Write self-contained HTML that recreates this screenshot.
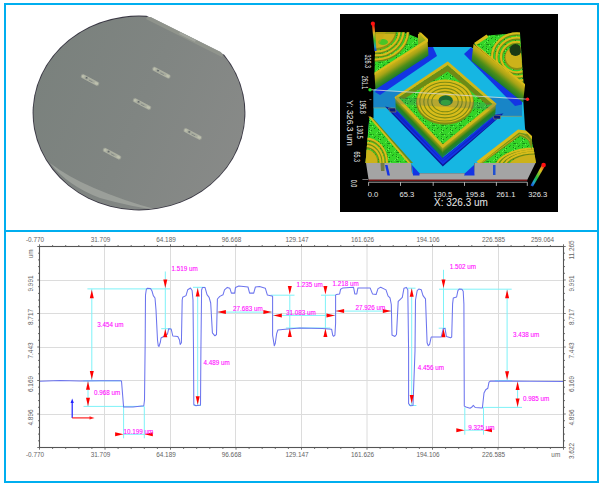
<!DOCTYPE html><html><head><meta charset="utf-8"><style>html,body{margin:0;padding:0;background:#fff;width:605px;height:490px;overflow:hidden}svg{display:block}text{font-family:"Liberation Sans",sans-serif}.m{font-size:6.3px;fill:#ff00ff;stroke:#ff40ff;stroke-width:0.12px}.t{font-size:6.4px;fill:#646464}.w{font-family:"Liberation Sans",sans-serif;fill:#e8e8e8}</style></head><body>
<svg width="605" height="490" viewBox="0 0 605 490">
<defs>
<clipPath id="wclip"><polygon points="-10,-64 320,101 320,300 -10,300"/></clipPath>
<radialGradient id="wg" cx="0.5" cy="0.45" r="0.6"><stop offset="0" stop-color="#7f817e"/><stop offset="0.8" stop-color="#7b7d7a"/><stop offset="1" stop-color="#777976"/></radialGradient>
</defs>
<rect x="5" y="4" width="593" height="478" fill="none" stroke="#00aeef" stroke-width="2"/>
<line x1="5" y1="231" x2="598" y2="231" stroke="#00aeef" stroke-width="2"/>
<defs><linearGradient id="wg2" x1="0" y1="0.3" x2="1" y2="0.7"><stop offset="0" stop-color="#7a817d"/><stop offset="0.5" stop-color="#808582"/><stop offset="1" stop-color="#888a88"/></linearGradient><filter id="bl" x="-20%" y="-50%" width="140%" height="200%"><feGaussianBlur stdDeviation="0.45"/></filter><filter id="bl2" x="-30%" y="-100%" width="160%" height="300%"><feGaussianBlur stdDeviation="0.6"/></filter></defs>
<path d="M146.48,15.84 L224.26,54.73 A106.4 97.4 0 1 1 146.48,15.84 Z" fill="#3a3844"/>
<path d="M151.07,17.13 L220.71,51.95 A105.5 96.5 0 1 1 151.07,17.13 Z" fill="url(#wg2)"/>
<defs><clipPath id="wclip2"><path d="M151.07,17.13 L220.71,51.95 A105.5 96.5 0 1 1 151.07,17.13 Z"/></clipPath></defs>
<g clip-path="url(#wclip2)">
<path d="M50,163 Q68,186 100,198 Q132,207 158,210 Q124,201 94,188 Q68,177 50,163 Z" fill="#a4a8a2" opacity="0.75" filter="url(#bl)"/>
<polygon points="148,15.5 224,53.5 222,57 146,19" fill="#94988f" opacity="0.8" filter="url(#bl)"/>
<polygon points="180,32 196,40 195,42 179,34" fill="#a8aca4" opacity="0.7" filter="url(#bl)"/>
</g>
<g transform="translate(90.0 80.0) rotate(28)" filter="url(#bl2)"><rect x="-9.5" y="-1.8" width="19" height="3.6" rx="1.2" fill="#bec1ae"/><rect x="-6.5" y="-0.9" width="12" height="1.8" fill="#a4a89c"/><circle cx="-4" cy="-0.3" r="0.9" fill="#4a5058"/><rect x="-1" y="0" width="4" height="0.8" fill="#7a8080"/></g>
<g transform="translate(161.4 72.7) rotate(28)" filter="url(#bl2)"><rect x="-9.5" y="-1.8" width="19" height="3.6" rx="1.2" fill="#bec1ae"/><rect x="-6.5" y="-0.9" width="12" height="1.8" fill="#a4a89c"/><circle cx="-4" cy="-0.3" r="0.9" fill="#4a5058"/><rect x="-1" y="0" width="4" height="0.8" fill="#7a8080"/></g>
<g transform="translate(142.0 104.0) rotate(28)" filter="url(#bl2)"><rect x="-9.5" y="-1.8" width="19" height="3.6" rx="1.2" fill="#bec1ae"/><rect x="-6.5" y="-0.9" width="12" height="1.8" fill="#a4a89c"/><circle cx="-4" cy="-0.3" r="0.9" fill="#4a5058"/><rect x="-1" y="0" width="4" height="0.8" fill="#7a8080"/></g>
<g transform="translate(192.7 134.0) rotate(28)" filter="url(#bl2)"><rect x="-9.5" y="-1.8" width="19" height="3.6" rx="1.2" fill="#bec1ae"/><rect x="-6.5" y="-0.9" width="12" height="1.8" fill="#a4a89c"/><circle cx="-4" cy="-0.3" r="0.9" fill="#4a5058"/><rect x="-1" y="0" width="4" height="0.8" fill="#7a8080"/></g>
<g transform="translate(112.0 153.7) rotate(28)" filter="url(#bl2)"><rect x="-9.5" y="-1.8" width="19" height="3.6" rx="1.2" fill="#bec1ae"/><rect x="-6.5" y="-0.9" width="12" height="1.8" fill="#a4a89c"/><circle cx="-4" cy="-0.3" r="0.9" fill="#4a5058"/><rect x="-1" y="0" width="4" height="0.8" fill="#7a8080"/></g>
<rect x="340" y="14" width="218" height="198" fill="#000"/>
<defs>
<linearGradient id="wallL" x1="0" y1="0" x2="0" y2="1"><stop offset="0" stop-color="#c6ae16"/><stop offset="0.5" stop-color="#9aa414"/><stop offset="1" stop-color="#50a020"/></linearGradient>
<linearGradient id="wallR" x1="0" y1="0" x2="0" y2="1"><stop offset="0" stop-color="#c2aa16"/><stop offset="0.55" stop-color="#92a018"/><stop offset="1" stop-color="#3c9a26"/></linearGradient>
<linearGradient id="cbar1" x1="0" y1="0" x2="0" y2="1"><stop offset="0" stop-color="#ff1010"/><stop offset="0.3" stop-color="#d8b020"/><stop offset="0.6" stop-color="#30c030"/><stop offset="0.85" stop-color="#20a0c0"/><stop offset="1" stop-color="#1030e0"/></linearGradient>
<linearGradient id="cbar2" x1="1" y1="0" x2="0" y2="1"><stop offset="0" stop-color="#ff1010"/><stop offset="0.3" stop-color="#d8c020"/><stop offset="0.6" stop-color="#20c040"/><stop offset="0.8" stop-color="#20a0d0"/><stop offset="1" stop-color="#1030e0"/></linearGradient>
<pattern id="speck" width="9" height="9" patternUnits="userSpaceOnUse"><rect width="9" height="9" fill="#34d428"/><rect x="5" y="2" width="1" height="1" fill="#168016"/><rect x="0" y="1" width="1" height="1" fill="#60f050"/><rect x="1" y="5" width="1" height="1" fill="#60f050"/><rect x="0" y="8" width="1" height="1" fill="#20a01c"/><rect x="0" y="1" width="1" height="1" fill="#168016"/><rect x="6" y="1" width="1" height="1" fill="#20a01c"/><rect x="1" y="8" width="1" height="1" fill="#168016"/><rect x="0" y="1" width="1" height="1" fill="#20a01c"/><rect x="0" y="6" width="1" height="1" fill="#1a8a18"/><rect x="3" y="0" width="1" height="1" fill="#60f050"/><rect x="2" y="4" width="1" height="1" fill="#168016"/><rect x="2" y="8" width="1" height="1" fill="#1a8a18"/><rect x="4" y="8" width="1" height="1" fill="#20a01c"/><rect x="1" y="3" width="1" height="1" fill="#5ae848"/><rect x="1" y="8" width="1" height="1" fill="#1a8a18"/><rect x="0" y="3" width="1" height="1" fill="#168016"/><rect x="8" y="6" width="1" height="1" fill="#5ae848"/><rect x="7" y="7" width="1" height="1" fill="#5ae848"/></pattern>
<clipPath id="c3d"><rect x="340" y="14" width="218" height="198"/></clipPath>
<clipPath id="cTL"><polygon points="375.5,32.3 419,32.3 428,40.5 374.5,74"/></clipPath>
<clipPath id="cTR"><polygon points="487,33 520,31 520,40 523.5,84.5 474,44"/></clipPath>
<clipPath id="cD"><polygon points="447.7,65.2 492.3,104 442.8,144.2 398.6,97.6"/></clipPath>
<clipPath id="cBL"><polygon points="369.3,117 370,117 411,163 365.5,163"/></clipPath>
<clipPath id="cBR"><polygon points="478,163 519,131 532,139 536,163"/></clipPath>
</defs>
<g clip-path="url(#c3d)">
<polygon points="428.0,47.0 471.0,47.0 522.0,84.0 523.5,104.0 525.0,128.0 532.0,163.0 474.5,163.0 474.0,173.5 412.0,173.5 411.0,163.0 366.0,163.0 369.3,118.0 373.5,118.0 373.5,90.0 377.0,88.0" fill="#16b6e2" />
<polygon points="373.5,90.0 522.0,99.5 522.0,116.5 501.0,116.0 493.0,112.0 388.0,107.7 373.5,107.7" fill="#1a70bc" opacity="0.7"/>
<path d="M373.5,107.9H388M501,116.3H522" stroke="#a8a050" stroke-width="0.6"/>
<polygon points="428.0,47.0 433.0,47.0 437.0,56.0 380.0,95.0 375.0,92.0 377.0,88.5" fill="#1434e4" />
<polygon points="464.0,54.0 471.0,47.5 522.0,92.0 522.0,104.5 515.0,106.0" fill="#1434e4" />
<polygon points="389.5,107.7 396.2,111.1 443.3,157.1 494.9,116.7 499.4,115.6 442.2,161.0" fill="#1434e4" />
<polygon points="390.0,109.0 396.0,109.0 397.0,112.0 392.0,112.0" fill="#0a1a80" />
<defs><linearGradient id="wallL2" x1="0" y1="0" x2="0" y2="1"><stop offset="0" stop-color="#c8b418"/><stop offset="0.45" stop-color="#98a616"/><stop offset="1" stop-color="#3aa02a"/></linearGradient><linearGradient id="endw" x1="0" y1="0" x2="0" y2="1"><stop offset="0" stop-color="#c8b418"/><stop offset="1" stop-color="#58a822"/></linearGradient></defs>
<polygon points="375.5,32.3 404.0,32.3 418.0,38.0 418.0,47.0 374.5,74.0" fill="url(#speck)" />
<g clip-path="url(#cTL)">
<ellipse cx="376.0" cy="30.9" rx="32.0" ry="29.4" fill="none" stroke="#6e8a14" stroke-width="3.0"/>
<ellipse cx="376.0" cy="30.0" rx="32.0" ry="29.4" fill="none" stroke="#d8bc1a" stroke-width="2.0"/>
<ellipse cx="376.0" cy="30.9" rx="27.5" ry="25.3" fill="none" stroke="#6e8a14" stroke-width="3.0"/>
<ellipse cx="376.0" cy="30.0" rx="27.5" ry="25.3" fill="none" stroke="#d8bc1a" stroke-width="2.0"/>
<ellipse cx="376.0" cy="30.9" rx="23.5" ry="21.6" fill="none" stroke="#6e8a14" stroke-width="3.0"/>
<ellipse cx="376.0" cy="30.0" rx="23.5" ry="21.6" fill="none" stroke="#d8bc1a" stroke-width="2.0"/>
<ellipse cx="376.0" cy="31.0" rx="20.5" ry="18.9" fill="#8a9014" />
<ellipse cx="376.0" cy="30.0" rx="19.5" ry="17.9" fill="#ccb21a" />
</g>
<g clip-path="url(#cTL)"><ellipse cx="383" cy="42" rx="5" ry="3" fill="#30c828" opacity="0.85"/><path d="M376,33H396" stroke="#6e8a14" stroke-width="1.2"/></g>
<polygon points="374.5,52.0 386.0,32.0 376.0,32.0" fill="#c8a814" opacity="0.55"/>
<polygon points="418.0,34.0 420.5,33.0 427.5,39.5 427.5,41.0 418.0,47.5" fill="url(#endw)" />
<defs><linearGradient id="fg1" gradientUnits="userSpaceOnUse" x1="427.50" y1="40.50" x2="434.61" y2="51.58"><stop offset="0" stop-color="#d2b418"/><stop offset="0.3" stop-color="#a8a416"/><stop offset="0.65" stop-color="#4e8e18"/><stop offset="1" stop-color="#1a7a30"/></linearGradient></defs>
<polygon points="427.5,40.5 374.5,74.5 375.5,89.5 428.5,55.5" fill="url(#fg1)" />
<polygon points="418.5,32.5 421.0,32.5 428.0,39.0 428.0,41.5 374.5,75.0 374.5,72.5 425.5,40.0" fill="#d8bc1a" />
<polygon points="487.0,35.5 520.0,33.0 523.5,84.0 474.0,44.0" fill="url(#speck)" />
<g clip-path="url(#cTR)">
<ellipse cx="517.0" cy="57.9" rx="25.0" ry="23.8" fill="none" stroke="#6e8a14" stroke-width="3.0"/>
<ellipse cx="517.0" cy="57.0" rx="25.0" ry="23.8" fill="none" stroke="#d8bc1a" stroke-width="2.0"/>
<ellipse cx="517.0" cy="57.9" rx="20.5" ry="19.5" fill="none" stroke="#6e8a14" stroke-width="3.0"/>
<ellipse cx="517.0" cy="57.0" rx="20.5" ry="19.5" fill="none" stroke="#d8bc1a" stroke-width="2.0"/>
<ellipse cx="517.0" cy="57.9" rx="16.0" ry="15.2" fill="none" stroke="#6e8a14" stroke-width="3.0"/>
<ellipse cx="517.0" cy="57.0" rx="16.0" ry="15.2" fill="none" stroke="#d8bc1a" stroke-width="2.0"/>
<ellipse cx="517.0" cy="58.0" rx="12.5" ry="11.9" fill="#8a9014" />
<ellipse cx="517.0" cy="57.0" rx="11.5" ry="10.9" fill="#ccb21a" />
</g>
<g clip-path="url(#cTR)"><ellipse cx="515.5" cy="50" rx="6" ry="6" fill="#1a3a14"/></g>
<defs><linearGradient id="wallTR" x1="0" y1="0" x2="0" y2="1"><stop offset="0" stop-color="#b8aa18"/><stop offset="0.5" stop-color="#7e9a18"/><stop offset="1" stop-color="#2c8a30"/></linearGradient></defs>
<defs><linearGradient id="fg2" gradientUnits="userSpaceOnUse" x1="473.50" y1="44.00" x2="464.41" y2="55.28"><stop offset="0" stop-color="#d2b418"/><stop offset="0.3" stop-color="#a8a416"/><stop offset="0.65" stop-color="#4e8e18"/><stop offset="1" stop-color="#1a7a30"/></linearGradient></defs>
<polygon points="473.5,44.0 525.0,85.5 523.0,102.5 471.5,61.0" fill="url(#fg2)" />
<polygon points="486.5,34.5 488.5,37.0 475.5,45.5 525.0,86.5 525.0,84.0 474.0,43.0" fill="#d8bc1a" />
<polygon points="385.0,106.5 395.9,109.0 442.8,158.5 495.2,114.5 503.5,113.5 442.8,166.5" fill="#0a1a9a" />
<polygon points="388.0,107.5 395.9,109.0 442.8,158.5 495.2,114.5 501.5,114.5 442.8,164.5" fill="#1434e4" />
<polygon points="391.0,110.0 395.9,110.5 442.8,161.0 495.2,116.0 499.0,116.5 442.8,161.5" fill="#0a1cb0" opacity="0.55"/>
<polygon points="388.5,108.0 395.5,108.0 396.0,112.0 390.0,112.0" fill="#0a1a80" stroke="#b0a040" stroke-width="0.5"/>
<polygon points="493.0,115.0 500.5,115.5 500.5,119.0 494.0,119.0" fill="#0a1a80" stroke="#b0a040" stroke-width="0.5"/>
<defs><linearGradient id="fg3" gradientUnits="userSpaceOnUse" x1="395.40" y1="97.50" x2="389.81" y2="102.85"><stop offset="0" stop-color="#c4ac18"/><stop offset="0.2" stop-color="#8e9a16"/><stop offset="0.55" stop-color="#2a8418"/><stop offset="1" stop-color="#107a58"/></linearGradient></defs>
<polygon points="395.4,97.5 442.8,147.0 443.1,158.5 395.7,109.0" fill="url(#fg3)" />
<defs><linearGradient id="fg4" gradientUnits="userSpaceOnUse" x1="442.80" y1="147.00" x2="447.82" y2="153.18"><stop offset="0" stop-color="#c4ac18"/><stop offset="0.2" stop-color="#8e9a16"/><stop offset="0.55" stop-color="#2a8418"/><stop offset="1" stop-color="#107a58"/></linearGradient></defs>
<polygon points="442.8,147.0 495.7,104.0 495.4,114.5 442.5,157.5" fill="url(#fg4)" />
<polygon points="447.7,62.4 495.7,104.0 442.8,147.0 395.4,97.5" fill="#d0b81a" stroke="#d0b81a" stroke-width="1.6" stroke-linejoin="round"/>
<polygon points="447.7,65.2 492.3,104.0 442.8,144.2 398.6,97.6" fill="url(#speck)" />
<polygon points="447.7,65.2 492.3,104.0 487.0,105.0 447.7,71.5 404.0,99.0 398.6,97.6" fill="#6e8a16" />
<g clip-path="url(#cD)">
<ellipse cx="445.0" cy="102.5" rx="29.0" ry="22.3" fill="#7e8c14"/>
<ellipse cx="445.0" cy="101.0" rx="28.0" ry="21.6" fill="#d8bc1a"/>
<ellipse cx="445.0" cy="101.6" rx="25.2" ry="19.4" fill="none" stroke="#7c8a12" stroke-width="1.1"/>
<ellipse cx="445.0" cy="101.6" rx="21.2" ry="16.3" fill="none" stroke="#7c8a12" stroke-width="1.1"/>
<ellipse cx="445.0" cy="101.6" rx="17.2" ry="13.2" fill="none" stroke="#7c8a12" stroke-width="1.1"/>
<ellipse cx="445.0" cy="101.6" rx="13.2" ry="10.2" fill="none" stroke="#7c8a12" stroke-width="1.1"/>
</g>
<ellipse cx="445.7" cy="100.5" rx="7.2" ry="5.3" fill="#1e6a30"/>
<ellipse cx="445.7" cy="102.5" rx="5" ry="2.8" fill="#30b030"/>
<polygon points="396.0,96.5 496.0,103.5 496.0,110.0 396.0,104.0" fill="#406080" opacity="0.22"/>
<polygon points="369.3,118.0 371.0,118.0 410.5,163.0 365.5,163.0" fill="url(#speck)" />
<g clip-path="url(#cBL)">
<ellipse cx="366.0" cy="163.9" rx="21.0" ry="24.6" fill="none" stroke="#6e8a14" stroke-width="3.0"/>
<ellipse cx="366.0" cy="163.0" rx="21.0" ry="24.6" fill="none" stroke="#d8bc1a" stroke-width="2.0"/>
<ellipse cx="366.0" cy="163.9" rx="17.5" ry="20.5" fill="none" stroke="#6e8a14" stroke-width="3.0"/>
<ellipse cx="366.0" cy="163.0" rx="17.5" ry="20.5" fill="none" stroke="#d8bc1a" stroke-width="2.0"/>
<ellipse cx="366.0" cy="163.9" rx="14.5" ry="17.0" fill="none" stroke="#6e8a14" stroke-width="3.0"/>
<ellipse cx="366.0" cy="163.0" rx="14.5" ry="17.0" fill="none" stroke="#d8bc1a" stroke-width="2.0"/>
<ellipse cx="366.0" cy="164.0" rx="12.5" ry="14.6" fill="#8a9014" />
<ellipse cx="366.0" cy="163.0" rx="11.5" ry="13.5" fill="#ccb21a" />
</g>
<polygon points="370.0,117.0 372.0,117.0 413.0,163.0 410.5,163.0" fill="#6e8c16" />
<polygon points="368.3,116.5 370.6,116.5 410.5,163.0 408.0,163.0" fill="#d8bc1a" />
<polygon points="478.0,163.0 519.0,130.5 531.5,138.0 535.5,163.0" fill="url(#speck)" />
<g clip-path="url(#cBR)">
<ellipse cx="535.0" cy="168.9" rx="39.0" ry="19.5" fill="none" stroke="#6e8a14" stroke-width="3.0"/>
<ellipse cx="535.0" cy="168.0" rx="39.0" ry="19.5" fill="none" stroke="#d8bc1a" stroke-width="2.0"/>
<ellipse cx="535.0" cy="168.9" rx="35.0" ry="17.5" fill="none" stroke="#6e8a14" stroke-width="3.0"/>
<ellipse cx="535.0" cy="168.0" rx="35.0" ry="17.5" fill="none" stroke="#d8bc1a" stroke-width="2.0"/>
<ellipse cx="535.0" cy="168.9" rx="31.0" ry="15.5" fill="none" stroke="#6e8a14" stroke-width="3.0"/>
<ellipse cx="535.0" cy="168.0" rx="31.0" ry="15.5" fill="none" stroke="#d8bc1a" stroke-width="2.0"/>
<ellipse cx="535.0" cy="169.0" rx="28.0" ry="14.0" fill="#8a9014" />
<ellipse cx="535.0" cy="168.0" rx="27.0" ry="13.5" fill="#ccb21a" />
</g>
<polygon points="479.0,163.0 519.0,132.5 527.0,134.0 532.0,139.5 532.0,150.0 528.0,140.0 520.0,136.0 483.0,163.0" fill="#7a9016" />
<polygon points="476.5,161.5 518.0,129.5 526.0,130.5 532.0,136.0 532.0,139.5 527.0,134.0 519.0,132.5 479.0,164.0" fill="#d8bc1a" />
<path d="M481,163L519.5,134.5Q526,135 530,141" fill="none" stroke="#c8b01a" stroke-width="0.9"/>
<polygon points="366.0,163.0 411.0,163.0 412.0,173.2 474.0,173.2 474.5,163.0 535.5,163.0 527.3,179.8 368.6,179.8" fill="#a4a4a4" />
<polygon points="385.0,165.0 387.5,165.0 390.0,175.4 387.5,175.4" fill="#1434e4" />
<polygon points="380.5,163.0 384.5,163.0 384.5,171.0 381.0,171.0" fill="#5a6a20" opacity="0.7"/>
<polygon points="412.0,165.0 419.5,173.2 419.5,175.4 413.0,175.4" fill="#1434e4" />
<polygon points="465.0,173.2 474.0,165.0 474.5,175.4 464.0,175.4" fill="#1434e4" />
<polygon points="493.0,165.0 495.5,165.0 495.5,175.0 493.0,175.0" fill="#2050d0" />
<line x1="368.6" y1="180.2" x2="527.3" y2="180.2" stroke="#b82020" stroke-width="0.9"/>
<line x1="370" y1="89.7" x2="527.5" y2="99.2" stroke="#d8d8d8" stroke-width="0.8"/>
<circle cx="370" cy="89.8" r="1.7" fill="#20e020"/>
<circle cx="527.5" cy="99.2" r="1.7" fill="#ff2020"/>
<polygon points="372.0,25.0 374.5,25.0 376.5,51.0 374.5,51.0" fill="url(#cbar1)" />
<circle cx="372.9" cy="23.7" r="2.1" fill="#ff1010"/>
<path d="M371.4,99.6h-2M362.4,179.5h5.7" stroke="#909090" stroke-width="0.8" fill="none"/>
<polygon points="542.5,164.0 545.0,166.0 533.0,186.5 530.5,185.5" fill="url(#cbar2)" />
<circle cx="543.6" cy="165" r="2.3" fill="#ff1010"/>
<path d="M368.6,182.2H527.3M368.6,182.2v3.7M400.5,182.2v3.7M433.2,182.2v3.7M464.5,182.2v3.7M496.4,182.2v3.7M527.3,182.2v3.7" stroke="#d0d0d0" stroke-width="0.8" fill="none"/>
<text x="367.7" y="196.8" class="w" font-size="7.6">0.0</text>
<text x="399.5" y="196.8" class="w" font-size="7.6">65.3</text>
<text x="433.2" y="196.8" class="w" font-size="7.6">130.5</text>
<text x="465.5" y="196.8" class="w" font-size="7.6">195.8</text>
<text x="496.4" y="196.8" class="w" font-size="7.6">261.1</text>
<text x="528.2" y="196.8" class="w" font-size="7.6">326.3</text>
<text x="434" y="205.9" class="w" font-size="10">X: 326.3 um</text>
<text transform="translate(365.1 61.3) rotate(90) scale(0.64 1)" class="w" font-size="8.4" text-anchor="middle" fill="#d0d0d0">326.3</text>
<text transform="translate(362.4 82.5) rotate(90) scale(0.64 1)" class="w" font-size="8.4" text-anchor="middle" fill="#d0d0d0">261.1</text>
<text transform="translate(360.4 107.0) rotate(90) scale(0.64 1)" class="w" font-size="8.4" text-anchor="middle" fill="#d0d0d0">195.8</text>
<text transform="translate(357.1 132.0) rotate(90) scale(0.64 1)" class="w" font-size="8.4" text-anchor="middle" fill="#d0d0d0">130.5</text>
<text transform="translate(353.8 156.7) rotate(90) scale(0.64 1)" class="w" font-size="8.4" text-anchor="middle" fill="#d0d0d0">65.3</text>
<text transform="translate(350.6 183.6) rotate(90) scale(0.64 1)" class="w" font-size="8.4" text-anchor="middle" fill="#d0d0d0">0.0</text>
<text transform="translate(346.6 123) rotate(90)" class="w" font-size="8.6" text-anchor="middle">Y: 326.3 um</text>
</g>
<line x1="104.5" y1="246.5" x2="104.5" y2="447.0" stroke="#dcdcdc" stroke-width="1"/>
<line x1="170.5" y1="246.5" x2="170.5" y2="447.0" stroke="#dcdcdc" stroke-width="1"/>
<line x1="235.5" y1="246.5" x2="235.5" y2="447.0" stroke="#dcdcdc" stroke-width="1"/>
<line x1="301.5" y1="246.5" x2="301.5" y2="447.0" stroke="#dcdcdc" stroke-width="1"/>
<line x1="367.0" y1="246.5" x2="367.0" y2="447.0" stroke="#dcdcdc" stroke-width="1"/>
<line x1="432.5" y1="246.5" x2="432.5" y2="447.0" stroke="#dcdcdc" stroke-width="1"/>
<line x1="498.5" y1="246.5" x2="498.5" y2="447.0" stroke="#dcdcdc" stroke-width="1"/>
<line x1="39.5" y1="280.5" x2="563.5" y2="280.5" stroke="#dcdcdc" stroke-width="1"/>
<line x1="39.5" y1="313.5" x2="563.5" y2="313.5" stroke="#dcdcdc" stroke-width="1"/>
<line x1="39.5" y1="347.5" x2="563.5" y2="347.5" stroke="#dcdcdc" stroke-width="1"/>
<line x1="39.5" y1="380.5" x2="563.5" y2="380.5" stroke="#dcdcdc" stroke-width="1"/>
<line x1="39.5" y1="414.5" x2="563.5" y2="414.5" stroke="#dcdcdc" stroke-width="1"/>
<line x1="91.8" y1="288.9" x2="91.8" y2="380.8" stroke="#7ef2f8" stroke-width="1"/>
<line x1="87.4" y1="288.9" x2="170.0" y2="288.9" stroke="#7ef2f8" stroke-width="1"/>
<line x1="83.2" y1="380.8" x2="121.0" y2="380.8" stroke="#7ef2f8" stroke-width="1"/>
<line x1="88.0" y1="380.8" x2="88.0" y2="406.4" stroke="#7ef2f8" stroke-width="1"/>
<line x1="83.5" y1="406.4" x2="144.4" y2="406.4" stroke="#7ef2f8" stroke-width="1"/>
<line x1="123.6" y1="406.6" x2="123.6" y2="438.3" stroke="#7ef2f8" stroke-width="1"/>
<line x1="144.3" y1="406.6" x2="144.3" y2="438.3" stroke="#7ef2f8" stroke-width="1"/>
<line x1="123.6" y1="434.3" x2="144.3" y2="434.3" stroke="#7ef2f8" stroke-width="1"/>
<line x1="165.3" y1="271.5" x2="165.3" y2="331.0" stroke="#7ef2f8" stroke-width="1"/>
<line x1="161.2" y1="328.7" x2="171.0" y2="328.7" stroke="#7ef2f8" stroke-width="1"/>
<line x1="197.7" y1="287.2" x2="197.7" y2="405.5" stroke="#7ef2f8" stroke-width="1"/>
<line x1="193.0" y1="287.3" x2="205.0" y2="287.3" stroke="#7ef2f8" stroke-width="1"/>
<line x1="193.5" y1="405.5" x2="201.0" y2="405.5" stroke="#7ef2f8" stroke-width="1"/>
<line x1="217.4" y1="312.1" x2="271.9" y2="312.1" stroke="#7ef2f8" stroke-width="1"/>
<line x1="289.8" y1="295.2" x2="289.8" y2="336.5" stroke="#7ef2f8" stroke-width="1"/>
<line x1="325.4" y1="295.2" x2="325.4" y2="336.5" stroke="#7ef2f8" stroke-width="1"/>
<line x1="270.6" y1="295.2" x2="294.5" y2="295.2" stroke="#7ef2f8" stroke-width="1"/>
<line x1="321.0" y1="295.2" x2="335.6" y2="295.2" stroke="#7ef2f8" stroke-width="1"/>
<line x1="285.9" y1="328.0" x2="330.3" y2="328.0" stroke="#7ef2f8" stroke-width="1"/>
<line x1="272.6" y1="315.4" x2="335.0" y2="315.4" stroke="#7ef2f8" stroke-width="1"/>
<line x1="335.6" y1="311.1" x2="391.3" y2="311.1" stroke="#7ef2f8" stroke-width="1"/>
<line x1="411.7" y1="288.2" x2="411.7" y2="405.5" stroke="#7ef2f8" stroke-width="1"/>
<line x1="407.3" y1="288.2" x2="415.5" y2="288.2" stroke="#7ef2f8" stroke-width="1"/>
<line x1="408.9" y1="405.5" x2="416.4" y2="405.5" stroke="#7ef2f8" stroke-width="1"/>
<line x1="443.5" y1="269.8" x2="443.5" y2="337.0" stroke="#7ef2f8" stroke-width="1"/>
<line x1="439.0" y1="289.2" x2="511.7" y2="289.2" stroke="#7ef2f8" stroke-width="1"/>
<line x1="438.7" y1="328.2" x2="446.0" y2="328.2" stroke="#7ef2f8" stroke-width="1"/>
<line x1="507.1" y1="289.5" x2="507.1" y2="380.6" stroke="#7ef2f8" stroke-width="1"/>
<line x1="494.8" y1="380.6" x2="512.1" y2="380.6" stroke="#7ef2f8" stroke-width="1"/>
<line x1="517.6" y1="381.4" x2="517.6" y2="407.4" stroke="#7ef2f8" stroke-width="1"/>
<line x1="483.2" y1="407.4" x2="522.0" y2="407.4" stroke="#7ef2f8" stroke-width="1"/>
<line x1="464.8" y1="407.4" x2="464.8" y2="434.7" stroke="#7ef2f8" stroke-width="1"/>
<line x1="483.5" y1="407.4" x2="483.5" y2="434.7" stroke="#7ef2f8" stroke-width="1"/>
<line x1="464.8" y1="430.2" x2="483.5" y2="430.2" stroke="#7ef2f8" stroke-width="1"/>
<polyline points="39.5,381.2 60.0,380.6 80.0,380.9 100.0,380.7 120.6,380.8 121.5,381.0 123.6,407.1 133.0,406.9 143.8,405.7 144.5,400.0 145.2,340.0 145.5,295.0 146.3,289.5 147.2,288.2 150.5,288.5 152.0,291.0 153.3,295.6 155.0,298.0 156.0,310.0 157.5,340.0 158.3,346.0 159.0,346.4 160.4,342.0 161.0,338.0 164.5,336.0 167.5,334.0 168.7,328.7 171.2,329.0 172.8,336.0 177.8,336.5 179.5,340.0 180.2,344.4 181.4,342.7 182.2,300.0 182.7,297.3 186.0,295.6 187.7,289.8 190.5,288.0 192.1,290.5 193.0,300.0 193.5,351.0 193.8,404.5 196.0,405.8 200.5,405.0 200.9,351.0 201.6,290.0 202.5,287.4 205.0,287.4 207.0,294.7 209.1,297.3 210.7,303.0 212.4,332.8 214.9,335.8 216.5,334.5 217.4,299.0 219.8,296.4 223.0,294.8 224.5,289.8 227.3,287.4 229.8,288.2 231.4,293.1 234.7,293.1 235.5,287.4 238.8,286.0 248.0,287.0 249.6,293.1 253.7,293.1 255.4,287.0 259.5,286.5 265.3,288.2 267.4,295.1 271.9,295.9 272.6,296.5 272.6,335.2 274.3,345.8 275.3,343.2 276.6,333.9 277.9,329.9 285.2,329.2 299.8,327.9 322.3,328.6 331.6,329.2 332.7,335.2 333.6,336.3 334.9,335.2 335.6,323.3 335.6,295.2 336.3,294.5 339.6,293.9 340.6,289.2 342.9,287.9 353.5,287.2 354.8,293.9 356.8,293.9 357.9,287.9 370.1,287.9 372.5,293.9 376.1,294.5 378.0,288.6 380.7,287.2 386.0,289.9 388.0,295.9 390.0,297.9 391.3,304.5 392.0,335.0 392.4,335.3 394.9,336.4 396.5,334.5 398.2,301.4 399.8,299.8 402.3,297.3 404.0,288.2 406.4,287.4 407.8,289.8 408.6,351.0 408.6,403.6 410.6,405.8 413.0,405.5 415.0,351.0 415.5,300.0 417.2,290.7 418.8,289.0 421.3,289.8 423.0,295.6 425.5,298.9 427.1,342.7 428.3,345.7 429.6,344.4 431.2,337.0 441.2,337.0 443.3,328.4 445.0,328.4 446.4,336.4 450.6,337.7 451.7,337.0 452.6,303.9 453.3,297.9 456.6,297.0 457.9,290.6 459.2,289.0 461.9,289.3 463.2,291.3 463.9,303.9 464.3,406.1 466.0,407.0 470.0,408.2 472.0,407.0 473.3,405.4 475.2,407.5 482.4,407.9 484.0,393.0 485.7,389.7 487.8,388.3 489.0,382.2 490.6,381.0 530.0,381.3 564.0,381.4" fill="none" stroke="#6c74ee" stroke-width="1.05" stroke-linejoin="round"/>
<polygon points="91.8,289.7 89.8,298.2 93.8,298.2" fill="#ff0000"/>
<polygon points="91.8,379.5 89.8,371.0 93.8,371.0" fill="#ff0000"/>
<polygon points="88.0,381.2 86.0,389.7 90.0,389.7" fill="#ff0000"/>
<polygon points="88.0,406.3 86.0,397.8 90.0,397.8" fill="#ff0000"/>
<polygon points="123.6,434.3 115.1,432.3 115.1,436.3" fill="#ff0000"/>
<polygon points="144.3,434.3 152.8,432.3 152.8,436.3" fill="#ff0000"/>
<polygon points="165.3,288.0 163.3,279.5 167.3,279.5" fill="#ff0000"/>
<polygon points="165.3,328.7 163.3,337.2 167.3,337.2" fill="#ff0000"/>
<polygon points="197.7,288.0 195.7,296.5 199.7,296.5" fill="#ff0000"/>
<polygon points="197.7,404.8 195.7,396.3 199.7,396.3" fill="#ff0000"/>
<polygon points="217.4,312.1 225.9,310.1 225.9,314.1" fill="#ff0000"/>
<polygon points="271.9,312.1 263.4,310.1 263.4,314.1" fill="#ff0000"/>
<polygon points="289.8,294.5 287.8,286.0 291.8,286.0" fill="#ff0000"/>
<polygon points="325.4,294.5 323.4,286.0 327.4,286.0" fill="#ff0000"/>
<polygon points="289.8,328.6 287.8,337.1 291.8,337.1" fill="#ff0000"/>
<polygon points="325.4,328.6 323.4,337.1 327.4,337.1" fill="#ff0000"/>
<polygon points="273.3,315.4 281.8,313.4 281.8,317.4" fill="#ff0000"/>
<polygon points="335.0,315.4 326.5,313.4 326.5,317.4" fill="#ff0000"/>
<polygon points="335.6,311.1 344.1,309.1 344.1,313.1" fill="#ff0000"/>
<polygon points="391.3,311.1 382.8,309.1 382.8,313.1" fill="#ff0000"/>
<polygon points="411.7,288.2 409.7,296.7 413.7,296.7" fill="#ff0000"/>
<polygon points="411.7,403.6 409.7,395.1 413.7,395.1" fill="#ff0000"/>
<polygon points="443.5,288.0 441.5,279.5 445.5,279.5" fill="#ff0000"/>
<polygon points="443.5,328.7 441.5,337.2 445.5,337.2" fill="#ff0000"/>
<polygon points="507.1,289.8 505.1,298.3 509.1,298.3" fill="#ff0000"/>
<polygon points="507.1,379.8 505.1,371.3 509.1,371.3" fill="#ff0000"/>
<polygon points="517.6,381.4 515.6,389.9 519.6,389.9" fill="#ff0000"/>
<polygon points="517.6,407.0 515.6,398.5 519.6,398.5" fill="#ff0000"/>
<polygon points="464.8,430.2 456.3,428.2 456.3,432.2" fill="#ff0000"/>
<polygon points="483.5,430.2 492.0,428.2 492.0,432.2" fill="#ff0000"/>
<text x="97.3" y="327.0" class="m" text-anchor="start">3.454 um</text>
<text x="93.9" y="395.1" class="m" text-anchor="start">0.968 um</text>
<text x="123.6" y="433.9" class="m" text-anchor="start">10.199 um</text>
<text x="171.5" y="270.8" class="m" text-anchor="start">1.519 um</text>
<text x="203.4" y="364.9" class="m" text-anchor="start">4.489 um</text>
<text x="233.0" y="311.4" class="m" text-anchor="start">27.683 um</text>
<text x="296.5" y="286.6" class="m" text-anchor="start">1.235 um</text>
<text x="286.0" y="315.1" class="m" text-anchor="start">31.083 um</text>
<text x="332.5" y="285.5" class="m" text-anchor="start">1.218 um</text>
<text x="355.5" y="310.4" class="m" text-anchor="start">27.926 um</text>
<text x="417.7" y="370.2" class="m" text-anchor="start">4.456 um</text>
<text x="449.8" y="269.1" class="m" text-anchor="start">1.502 um</text>
<text x="513.0" y="336.5" class="m" text-anchor="start">3.438 um</text>
<text x="522.9" y="401.3" class="m" text-anchor="start">0.985 um</text>
<text x="468.3" y="429.8" class="m" text-anchor="start">9.325 um</text>
<line x1="72.2" y1="401.0" x2="72.2" y2="417.9" stroke="#2020ff" stroke-width="1.2"/>
<polygon points="72.2,398.5 70.6,403 73.8,403" fill="#2020ff"/>
<line x1="72.2" y1="417.9" x2="91.0" y2="417.9" stroke="#ff2020" stroke-width="1.2"/>
<polygon points="94.5,417.9 89.5,416.3 89.5,419.5" fill="#ff2020"/>
<rect x="39.5" y="246.5" width="524" height="201" fill="none" stroke="#555555" stroke-width="1.1"/>
<path d="M39.5,246.5v-2.2M39.5,447.5v2.2M52.6,246.5v-1.5M52.6,447.5v1.5M65.7,246.5v-1.5M65.7,447.5v1.5M78.8,246.5v-1.5M78.8,447.5v1.5M91.9,246.5v-1.5M91.9,447.5v1.5M105.0,246.5v-2.2M105.0,447.5v2.2M118.1,246.5v-1.5M118.1,447.5v1.5M131.2,246.5v-1.5M131.2,447.5v1.5M144.3,246.5v-1.5M144.3,447.5v1.5M157.4,246.5v-1.5M157.4,447.5v1.5M170.5,246.5v-2.2M170.5,447.5v2.2M183.6,246.5v-1.5M183.6,447.5v1.5M196.7,246.5v-1.5M196.7,447.5v1.5M209.8,246.5v-1.5M209.8,447.5v1.5M222.9,246.5v-1.5M222.9,447.5v1.5M236.0,246.5v-2.2M236.0,447.5v2.2M249.1,246.5v-1.5M249.1,447.5v1.5M262.2,246.5v-1.5M262.2,447.5v1.5M275.3,246.5v-1.5M275.3,447.5v1.5M288.4,246.5v-1.5M288.4,447.5v1.5M301.5,246.5v-2.2M301.5,447.5v2.2M314.6,246.5v-1.5M314.6,447.5v1.5M327.7,246.5v-1.5M327.7,447.5v1.5M340.8,246.5v-1.5M340.8,447.5v1.5M353.9,246.5v-1.5M353.9,447.5v1.5M367.0,246.5v-2.2M367.0,447.5v2.2M380.1,246.5v-1.5M380.1,447.5v1.5M393.2,246.5v-1.5M393.2,447.5v1.5M406.3,246.5v-1.5M406.3,447.5v1.5M419.4,246.5v-1.5M419.4,447.5v1.5M432.5,246.5v-2.2M432.5,447.5v2.2M445.6,246.5v-1.5M445.6,447.5v1.5M458.7,246.5v-1.5M458.7,447.5v1.5M471.8,246.5v-1.5M471.8,447.5v1.5M484.9,246.5v-1.5M484.9,447.5v1.5M498.0,246.5v-2.2M498.0,447.5v2.2M511.1,246.5v-1.5M511.1,447.5v1.5M524.2,246.5v-1.5M524.2,447.5v1.5M537.3,246.5v-1.5M537.3,447.5v1.5M550.4,246.5v-1.5M550.4,447.5v1.5M563.5,246.5v-2.2M563.5,447.5v2.2M39.5,246.5h-2.2M563.5,246.5h2.2M39.5,253.2h-1.5M563.5,253.2h1.5M39.5,259.9h-1.5M563.5,259.9h1.5M39.5,266.6h-1.5M563.5,266.6h1.5M39.5,273.3h-1.5M563.5,273.3h1.5M39.5,280.0h-2.2M563.5,280.0h2.2M39.5,286.7h-1.5M563.5,286.7h1.5M39.5,293.4h-1.5M563.5,293.4h1.5M39.5,300.1h-1.5M563.5,300.1h1.5M39.5,306.8h-1.5M563.5,306.8h1.5M39.5,313.5h-2.2M563.5,313.5h2.2M39.5,320.2h-1.5M563.5,320.2h1.5M39.5,326.9h-1.5M563.5,326.9h1.5M39.5,333.6h-1.5M563.5,333.6h1.5M39.5,340.3h-1.5M563.5,340.3h1.5M39.5,347.0h-2.2M563.5,347.0h2.2M39.5,353.7h-1.5M563.5,353.7h1.5M39.5,360.4h-1.5M563.5,360.4h1.5M39.5,367.1h-1.5M563.5,367.1h1.5M39.5,373.8h-1.5M563.5,373.8h1.5M39.5,380.5h-2.2M563.5,380.5h2.2M39.5,387.2h-1.5M563.5,387.2h1.5M39.5,393.9h-1.5M563.5,393.9h1.5M39.5,400.6h-1.5M563.5,400.6h1.5M39.5,407.3h-1.5M563.5,407.3h1.5M39.5,414.0h-2.2M563.5,414.0h2.2M39.5,420.7h-1.5M563.5,420.7h1.5M39.5,427.4h-1.5M563.5,427.4h1.5M39.5,434.1h-1.5M563.5,434.1h1.5M39.5,440.8h-1.5M563.5,440.8h1.5M39.5,447.5h-2.2M563.5,447.5h2.2" stroke="#606060" stroke-width="0.9" fill="none"/>
<text x="35.0" y="241.6" class="t" text-anchor="middle">-0.770</text>
<text x="35.0" y="456.8" class="t" text-anchor="middle">-0.770</text>
<text x="100.5" y="241.6" class="t" text-anchor="middle">31.709</text>
<text x="100.5" y="456.8" class="t" text-anchor="middle">31.709</text>
<text x="166.0" y="241.6" class="t" text-anchor="middle">64.189</text>
<text x="166.0" y="456.8" class="t" text-anchor="middle">64.189</text>
<text x="231.5" y="241.6" class="t" text-anchor="middle">96.668</text>
<text x="231.5" y="456.8" class="t" text-anchor="middle">96.668</text>
<text x="297.0" y="241.6" class="t" text-anchor="middle">129.147</text>
<text x="297.0" y="456.8" class="t" text-anchor="middle">129.147</text>
<text x="362.5" y="241.6" class="t" text-anchor="middle">161.626</text>
<text x="362.5" y="456.8" class="t" text-anchor="middle">161.626</text>
<text x="428.0" y="241.6" class="t" text-anchor="middle">194.106</text>
<text x="428.0" y="456.8" class="t" text-anchor="middle">194.106</text>
<text x="493.5" y="241.6" class="t" text-anchor="middle">226.585</text>
<text x="493.5" y="456.8" class="t" text-anchor="middle">226.585</text>
<text x="542.5" y="241.6" class="t" text-anchor="middle">259.064</text>
<text x="555.8" y="456.8" class="t" text-anchor="middle">um</text>
<text transform="translate(573.5 250.0) rotate(-90)" class="t" text-anchor="middle">11.265</text>
<text transform="translate(573.5 283.5) rotate(-90)" class="t" text-anchor="middle">9.991</text>
<text transform="translate(32.8 283.5) rotate(-90)" class="t" text-anchor="middle">9.991</text>
<text transform="translate(573.5 317.0) rotate(-90)" class="t" text-anchor="middle">8.717</text>
<text transform="translate(32.8 317.0) rotate(-90)" class="t" text-anchor="middle">8.717</text>
<text transform="translate(573.5 350.5) rotate(-90)" class="t" text-anchor="middle">7.443</text>
<text transform="translate(32.8 350.5) rotate(-90)" class="t" text-anchor="middle">7.443</text>
<text transform="translate(573.5 384.0) rotate(-90)" class="t" text-anchor="middle">6.169</text>
<text transform="translate(32.8 384.0) rotate(-90)" class="t" text-anchor="middle">6.169</text>
<text transform="translate(573.5 417.5) rotate(-90)" class="t" text-anchor="middle">4.896</text>
<text transform="translate(32.8 417.5) rotate(-90)" class="t" text-anchor="middle">4.896</text>
<text transform="translate(573.5 451.0) rotate(-90)" class="t" text-anchor="middle">3.622</text>
<text transform="translate(32.8 253.8) rotate(-90)" class="t" text-anchor="middle">um</text>
</svg></body></html>
